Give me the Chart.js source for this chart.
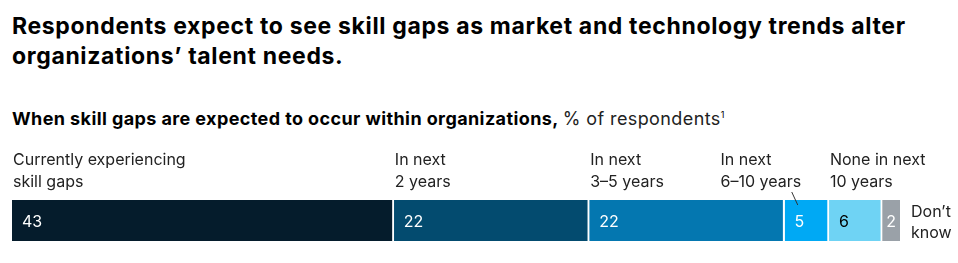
<!DOCTYPE html>
<html lang="en">
<head>
    <meta charset="UTF-8">
    <title>Skill gaps</title>
    <script src="https://cdn.jsdelivr.net/npm/chart.js"></script>
    <style>
        body {
            margin: 0;
            width: 958px;
            height: 263px;
            background: #fff;
            font-family: Inter, "Liberation Sans", Arial, sans-serif;
            color: #000;
            position: relative;
            overflow: hidden;
        }
        h1 {
            position: absolute;
            left: 12px;
            top: 11px;
            margin: 0;
            font-size: 23px;
            line-height: 30px;
            letter-spacing: 0.65px;
            font-weight: bold;
        }
        h2 {
            position: absolute;
            left: 12px;
            top: 104px;
            margin: 0;
            font-size: 18px;
            line-height: 22px;
            letter-spacing: 0.4px;
            font-weight: bold;
        }
        h2 span { font-weight: normal; color: #222; }
        h2 sup { font-size: 9px; font-weight: normal; }
        .container {
            position: absolute;
            left: 0;
            top: 140px;
            width: 958px;
            height: 123px;
        }
    </style>
</head>
<body>

    <h1>Respondents expect to see skill gaps as market and technology trends alter<br>organizations’ talent needs.</h1>
    <h2>When skill gaps are expected to occur within organizations, <span>% of respondents</span><sup>1</sup></h2>

    <div class="container">
        <canvas id="gapChart"></canvas>
    </div>

    <script>
        // data
        const categories = [
            ["Currently experiencing", "skill gaps"],
            ["In next", "2 years"],
            ["In next", "3–5 years"],
            ["In next", "6–10 years"],
            ["None in next", "10 years"],
            ["Don’t", "know"]
        ];
        const shares = [43, 22, 22, 5, 6, 2];
        const colors = ["#051c2c", "#034b6f", "#0477b0", "#00a9f4", "#6fd3f4", "#9aa1a8"];
        const valueColors = ["#fff", "#fff", "#fff", "#fff", "#000", "#fff"];

        const datasets = shares.map((v, i) => ({
            label: categories[i].join(" "),
            data: [v],
            backgroundColor: colors[i],
            borderColor: "#fff",
            borderWidth: { left: 0, top: 0, bottom: 0, right: i < shares.length - 1 ? 2 : 0 },
            borderSkipped: false,
            barPercentage: 1,
            categoryPercentage: 1
        }));

        const labelFont = "16px Inter, 'Liberation Sans', Arial, sans-serif";

        const labelPlugin = {
            id: "labels",
            afterDatasetsDraw(chart) {
                const ctx = chart.ctx;
                const x = chart.scales.x;
                const area = chart.chartArea;
                ctx.save();
                ctx.textBaseline = "alphabetic";
                let start = 0;
                shares.forEach((v, i) => {
                    const x0 = x.getPixelForValue(start);
                    const x1 = x.getPixelForValue(start + v);
                    start += v;

                    // value inside the bar
                    ctx.font = labelFont;
                    ctx.fillStyle = valueColors[i];
                    const mid = (area.top + area.bottom) / 2 + 6;
                    if (x1 - x0 < 24) {
                        ctx.textAlign = "center";
                        ctx.fillText(String(v), (x0 + x1) / 2, mid);
                    } else {
                        ctx.textAlign = "left";
                        ctx.fillText(String(v), x0 + 10, mid);
                    }

                    // category label
                    ctx.fillStyle = "#222";
                    ctx.textAlign = "left";
                    const lines = categories[i];
                    if (i === shares.length - 1) {
                        ctx.fillText(lines[0], x1 + 11, area.top + 17);
                        ctx.fillText(lines[1], x1 + 11, area.top + 38);
                    } else if (i === 3) {
                        const c = (x0 + x1) / 2;
                        ctx.fillText(lines[0], x0 - 64, 25);
                        ctx.fillText(lines[1], x0 - 64, 47);
                        ctx.strokeStyle = "#333";
                        ctx.lineWidth = 1;
                        ctx.beginPath();
                        ctx.moveTo(c - 15, 52);
                        ctx.lineTo(c - 9, 65);
                        ctx.stroke();
                    } else {
                        ctx.fillText(lines[0], x0 + 1, 25);
                        ctx.fillText(lines[1], x0 + 1, 47);
                    }
                });
                ctx.restore();
            }
        };

        new Chart(document.getElementById("gapChart"), {
            type: "bar",
            data: { labels: ["Respondents"], datasets: datasets },
            options: {
                indexAxis: "y",
                responsive: true,
                maintainAspectRatio: false,
                animation: false,
                layout: { padding: { left: 12, right: 58, top: 60, bottom: 22 } },
                scales: {
                    x: { stacked: true, min: 0, max: 100, display: false },
                    y: { stacked: true, display: false }
                },
                plugins: {
                    legend: { display: false },
                    tooltip: { enabled: false }
                }
            },
            plugins: [labelPlugin]
        });
    </script>

</body>
</html>
